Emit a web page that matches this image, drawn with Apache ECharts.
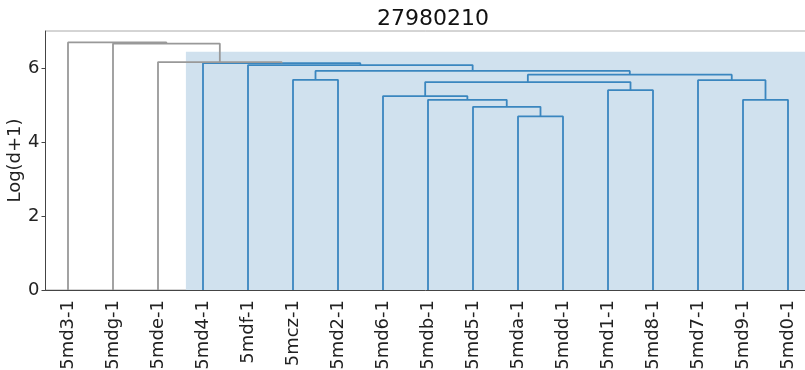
<!DOCTYPE html>
<html>
<head>
<meta charset="utf-8">
<script src="https://cdn.jsdelivr.net/npm/echarts@6/dist/echarts.min.js"></script>
<style>html,body{margin:0;padding:0;background:#fff}#c{width:805px;height:370px}</style>
</head>
<body>
<div id="c"></div>
<script>
// Leaf labels, left to right
const leaves = ['5md3-1','5mdg-1','5mde-1','5md4-1','5mdf-1','5mcz-1','5md2-1','5md6-1','5mdb-1','5md5-1','5mda-1','5mdd-1','5md1-1','5md8-1','5md7-1','5md9-1','5md0-1'];
// Merges: cluster c1..c16 joins mergeLeft[i] and mergeRight[i] at mergeHeight[i]
const mergeLeft   = ['5mda-1','5md5-1','5mdb-1','5md6-1','5md1-1','c4','5md9-1','5md7-1','c6','5mcz-1','c10','5mdf-1','5md4-1','5mde-1','5mdg-1','5md3-1'];
const mergeRight  = ['5mdd-1','c1','c2','c3','5md8-1','c5','5md0-1','c7','c8','5md2-1','c9','c11','c12','c13','c14','c15'];
const mergeHeight = [4.69, 4.95, 5.14, 5.24, 5.40, 5.62, 5.14, 5.67, 5.82, 5.68, 5.92, 6.08, 6.13, 6.16, 6.66, 6.69];
const colorThreshold = 6.145;
// Highlighted cluster band (x in leaf-index units, y in Log(d+1))
const bandX = [2.62, 16.5];
const bandTop = 6.44;
const yTicks = [0, 2, 4, 6];

const pos = {}, hgt = {};
leaves.forEach((l, i) => { pos[l] = i; hgt[l] = 0; });
const series = [];
series.push({
  type: 'line', xAxisIndex: 1, data: [], z: 1, silent: true,
  markArea: { silent: true, itemStyle: { color: '#d0e1ee' },
    data: [[{ xAxis: bandX[0], yAxis: 0 }, { xAxis: bandX[1], yAxis: bandTop }]] }
});
mergeHeight.forEach((h, i) => {
  const a = mergeLeft[i], b = mergeRight[i], id = 'c' + (i + 1);
  const xa = pos[a], xb = pos[b];
  pos[id] = (xa + xb) / 2; hgt[id] = h;
  series.push({
    type: 'line', xAxisIndex: 1, symbol: 'none', z: 3, silent: true,
    lineStyle: { width: 1.8, color: h > colorThreshold ? '#999999' : '#3a86bf' },
    data: [[xa, hgt[a]], [xa, h], [xb, h], [xb, hgt[b]]]
  });
});

const chart = echarts.init(document.getElementById('c'), null, { renderer: 'canvas' });
const FF = 'DejaVu Sans';
chart.setOption({
  animation: false,
  title: { text: '27980210', left: 428, textAlign: 'center', top: 3,
    textStyle: { fontFamily: FF, fontSize: 22, fontWeight: 'normal', color: '#111' } },
  grid: { left: 45.5, top: 31, width: 765, height: 259, containLabel: false, outerBoundsMode: 'none',
    show: true, borderColor: '#aaa', borderWidth: 1, backgroundColor: 'transparent' },
  xAxis: [
    { type: 'category', data: leaves, boundaryGap: true,
      axisLine: { show: true, onZero: false, lineStyle: { color: '#444', width: 1 } },
      axisTick: { show: false },
      axisLabel: { rotate: 90, fontFamily: FF, fontSize: 18, color: '#222', margin: 10, interval: 0 },
      splitLine: { show: false } },
    { type: 'value', min: -0.5, max: 16.5, show: false, splitLine: { show: false } }
  ],
  yAxis: {
    type: 'value', min: 0, max: 7,
    name: 'Log(d+1)', nameLocation: 'middle', nameGap: 21, nameMoveOverlap: false,
    nameTextStyle: { fontFamily: FF, fontSize: 18, color: '#222' },
    axisLine: { show: true, onZero: false, lineStyle: { color: '#444', width: 1 } },
    axisTick: { show: true, length: 4, customValues: yTicks, lineStyle: { color: '#444' } },
    axisLabel: { fontFamily: FF, fontSize: 18, color: '#222', margin: 6, customValues: yTicks },
    splitLine: { show: false }
  },
  series: series
});
</script>
</body>
</html>
